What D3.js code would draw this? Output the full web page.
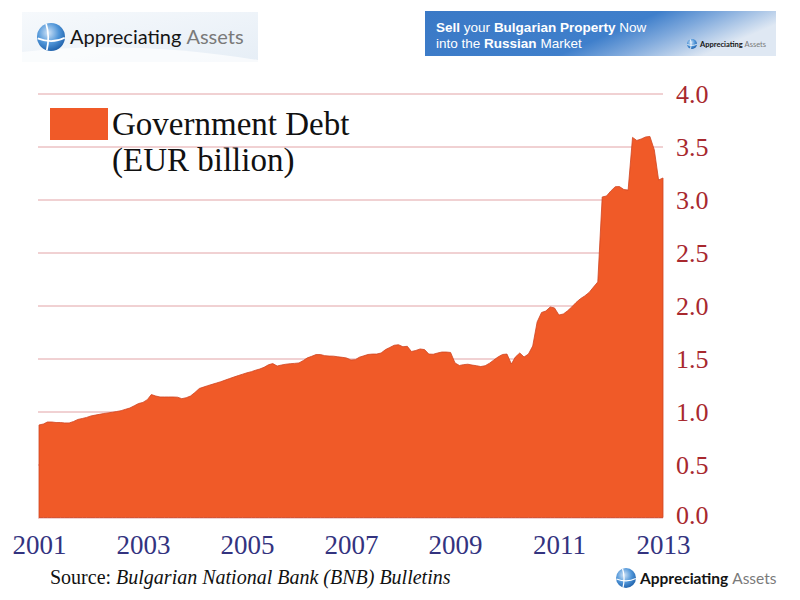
<!DOCTYPE html>
<html><head><meta charset="utf-8">
<script src="https://cdn.jsdelivr.net/npm/d3@7"></script>
<style>body{margin:0;background:#fff} svg{display:block}</style>
</head><body>
<svg id="chart" width="800" height="600"></svg>
<script>
// ---------- data ----------
const startMonth = "2001-01";
const debtValues = [
  0.873,0.882,0.901,0.901,0.896,0.896,0.892,0.892,0.906,0.925,0.934,0.944,
  0.958,0.966,0.973,0.981,0.987,0.993,1.000,1.008,1.021,1.033,1.054,1.075,
  1.086,1.112,1.160,1.146,1.137,1.137,1.137,1.137,1.135,1.121,1.130,1.146,
  1.179,1.217,1.230,1.244,1.256,1.269,1.281,1.296,1.311,1.325,1.339,1.352,
  1.365,1.376,1.389,1.401,1.417,1.441,1.452,1.429,1.439,1.446,1.451,1.454,
  1.458,1.481,1.506,1.521,1.537,1.537,1.527,1.523,1.522,1.516,1.511,1.505,
  1.486,1.489,1.512,1.525,1.538,1.542,1.542,1.552,1.584,1.604,1.625,1.630,
  1.611,1.615,1.566,1.576,1.590,1.584,1.542,1.540,1.552,1.561,1.561,1.557,
  1.458,1.434,1.442,1.446,1.438,1.432,1.424,1.432,1.456,1.486,1.516,1.538,
  1.542,1.448,1.514,1.552,1.514,1.542,1.618,1.845,1.934,1.948,1.986,1.977,
  1.910,1.920,1.948,1.986,2.028,2.064,2.090,2.123,2.174,2.222,3.024,3.033,
  3.081,3.121,3.122,3.094,3.089,3.586,3.557,3.571,3.590,3.595,3.468,3.184,
  3.203
];
const yTicks = [0, 0.5, 1.0, 1.5, 2.0, 2.5, 3.0, 3.5, 4.0];
const xTickYears = [2001, 2003, 2005, 2007, 2009, 2011, 2013];
const legendLines = ["Government Debt", "(EUR billion)"];
const sourcePrefix = "Source:";
const sourceTitle = "Bulgarian National Bank (BNB) Bulletins";
const brandWords = ["Appreciating", "Assets"];
const bannerLine1 = [["Sell", true], ["your", false], ["Bulgarian Property", true], ["Now", false]];
const bannerLine2 = [["into the", false], ["Russian", true], ["Market", false]];

// ---------- setup ----------
const svg = d3.select("#chart");
const parseMonth = d3.timeParse("%Y-%m");
const t0 = parseMonth(startMonth);
const data = debtValues.map((v, i) => ({ date: d3.timeMonth.offset(t0, i), value: v }));

const x = d3.scaleTime()
  .domain([new Date(2001, 0, 1), new Date(2013, 0, 1)])
  .range([39, 663]);
const y = d3.scaleLinear().domain([0, 4]).range([517.5, 93.5]);

const defs = svg.append("defs");

// ---------- gridlines + y labels ----------
const yAxis = svg.append("g")
  .attr("transform", `translate(${x.range()[1]},0)`)
  .call(d3.axisRight(y).tickValues(yTicks).tickFormat(d3.format(".1f"))
    .tickSize(-(x.range()[1] - x.range()[0] + 1)).tickPadding(13));
yAxis.select(".domain").remove();
yAxis.selectAll(".tick line").attr("stroke", "#e2a3a6").attr("stroke-width", 1);
yAxis.selectAll(".tick text")
  .attr("fill", "#a8282e")
  .attr("font-family", "Liberation Serif, serif")
  .attr("font-size", 26)
  .attr("dy", d => d === 0 ? "0.23em" : "0.34em");

// ---------- area ----------
const area = d3.area()
  .x(d => x(d.date))
  .y0(y(0))
  .y1(d => y(d.value));
svg.append("path")
  .datum(data)
  .attr("d", area)
  .attr("fill", "#f05a28")
  .attr("stroke", "#cf4421")
  .attr("stroke-width", 0.8)
  .attr("stroke-linejoin", "round");

// ---------- x labels ----------
const xAxis = svg.append("g")
  .attr("transform", `translate(0,${y(0)})`)
  .call(d3.axisBottom(x).tickValues(xTickYears.map(yy => new Date(yy, 0, 1)))
    .tickFormat(d3.timeFormat("%Y")).tickSize(0).tickPadding(17));
xAxis.select(".domain").remove();
xAxis.selectAll(".tick text")
  .attr("fill", "#33337f")
  .attr("font-family", "Liberation Serif, serif")
  .attr("font-size", 27);

// ---------- legend ----------
svg.append("rect").attr("x", 50).attr("y", 108).attr("width", 58).attr("height", 32).attr("fill", "#f05a28");
svg.selectAll(".leg").data(legendLines).enter().append("text")
  .attr("x", 112).attr("y", (d, i) => 135 + i * 36)
  .attr("font-family", "Liberation Serif, serif")
  .attr("font-size", 33)
  .attr("fill", "#111")
  .text(d => d);

// ---------- helper: run of separately styled text pieces ----------
function run(xp, yp, pieces, common, gap) {
  let cx = xp;
  pieces.forEach(p => {
    const t = svg.append("text").attr("x", cx).attr("y", yp).text(p.text);
    Object.entries(common).forEach(([k, v]) => t.attr(k, v));
    Object.entries(p.attrs || {}).forEach(([k, v]) => t.attr(k, v));
    cx += t.node().getComputedTextLength() + gap;
  });
}

// ---------- source ----------
run(50, 584, [
  { text: sourcePrefix },
  { text: sourceTitle, attrs: { "font-style": "italic" } }
], { "font-family": "Liberation Serif, serif", "font-size": 20, "fill": "#111" }, 5);

// ---------- logo helpers ----------
function globe(cx, cy, r, id) {
  const g = defs.append("radialGradient").attr("id", id).attr("cx", "40%").attr("cy", "35%").attr("r", "70%");
  g.append("stop").attr("offset", "0%").attr("stop-color", "#cfe3f7");
  g.append("stop").attr("offset", "55%").attr("stop-color", "#4f95d8");
  g.append("stop").attr("offset", "100%").attr("stop-color", "#1c5ea8");
  svg.append("circle").attr("cx", cx).attr("cy", cy).attr("r", r).attr("fill", `url(#${id})`);
  svg.append("path")
    .attr("d", `M${cx - r * 0.35},${cy - r * 0.95} C${cx - r * 0.15},${cy - r * 0.3} ${cx - r * 0.15},${cy + r * 0.3} ${cx - r * 0.3},${cy + r * 0.95}`)
    .attr("stroke", "#fff").attr("stroke-width", Math.max(0.8, r * 0.12)).attr("fill", "none");
  svg.append("path")
    .attr("d", `M${cx - r * 0.95},${cy + r * 0.1} C${cx - r * 0.3},${cy + r * 0.35} ${cx + r * 0.4},${cy + r * 0.35} ${cx + r * 0.98},${cy + r * 0.05}`)
    .attr("stroke", "#fff").attr("stroke-width", Math.max(0.8, r * 0.12)).attr("fill", "none");
}
function brand(xp, yp, size, weight) {
  run(xp, yp, [
    { text: brandWords[0], attrs: { fill: "#141414", "font-weight": weight } },
    { text: brandWords[1], attrs: { fill: "#7a7a7a" } }
  ], { "font-family": "Lato, 'DejaVu Sans', sans-serif", "font-size": size }, size * 0.25);
}

// top-left logo box
const lg = defs.append("linearGradient").attr("id", "boxg").attr("x1", "0").attr("y1", "0").attr("x2", "1").attr("y2", "1");
lg.append("stop").attr("offset", "0%").attr("stop-color", "#f6f9fc");
lg.append("stop").attr("offset", "100%").attr("stop-color", "#e6eef6");
svg.append("rect").attr("x", 22).attr("y", 12).attr("width", 236).attr("height", 50).attr("fill", "url(#boxg)");
svg.append("path").attr("d", "M22,52 C90,44 170,46 258,60 L258,62 L22,62 Z").attr("fill", "#ffffff").attr("opacity", 0.7);
globe(51, 37, 14, "gl1");
brand(70, 44, 20, 400);

// top-right banner
const bg = defs.append("linearGradient").attr("id", "bang").attr("x1", "0").attr("y1", "0").attr("x2", "1").attr("y2", "0.3");
bg.append("stop").attr("offset", "0%").attr("stop-color", "#3a79c6");
bg.append("stop").attr("offset", "62%").attr("stop-color", "#3f7fcb");
bg.append("stop").attr("offset", "78%").attr("stop-color", "#7fa9dc");
bg.append("stop").attr("offset", "100%").attr("stop-color", "#dfe8f3");
svg.append("rect").attr("x", 425).attr("y", 11).attr("width", 351).attr("height", 45).attr("fill", "url(#bang)");
[bannerLine1, bannerLine2].forEach((line, i) => {
  run(436, 32 + i * 16,
    line.map(([s, b]) => ({ text: s, attrs: { "font-weight": b ? 700 : 400 } })),
    { "font-family": "'Liberation Sans', Arial, sans-serif", "font-size": 13.5, "fill": "#fff" }, 3.8);
});
globe(692, 44, 5, "gl2");
brand(700, 47, 7.5, 700);

// bottom-right logo
globe(626, 578, 10, "gl3");
brand(640, 584, 15.5, 700);
</script>
</body></html>
